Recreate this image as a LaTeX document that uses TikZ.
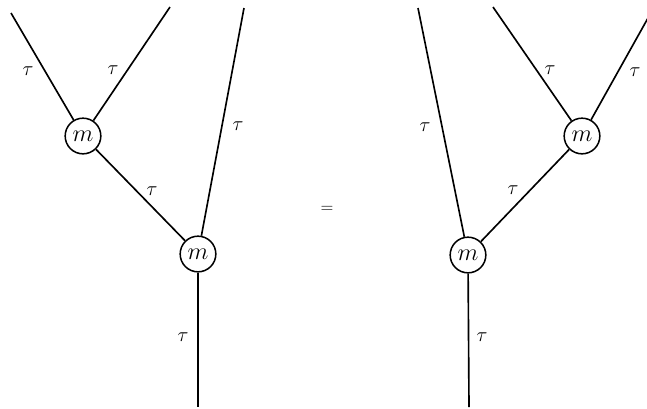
\documentclass[tikz,border=0pt]{standalone}
\usepackage{amsmath}
\usepackage{tikz}
\usetikzlibrary{positioning}

\begin{document}
\begin{tikzpicture}[
    x=0.03cm, y=-0.03cm,
    vertex/.style={circle, draw, line width=1.3pt, minimum size=1.07cm,
                   inner sep=0pt, font=\huge},
    lbl/.style={font=\LARGE, inner sep=1pt},
    wire/.style={line width=1.4pt}
  ]
    \useasboundingbox (0,0) rectangle (647,408);

    % left side: (tau tau) tau
    \node[vertex] (ml)  at (83,136)  {$m$};
    \node[vertex] (mlr) at (198,254) {$m$};
    \coordinate (la) at (11,13);
    \coordinate (lb) at (170,7);
    \coordinate (lc) at (244,8);
    \coordinate (lr) at (198,407);

    \draw[wire] (la) -- (ml);
    \draw[wire] (lb) -- (ml);
    \draw[wire] (ml) -- (mlr);
    \draw[wire] (lc) -- (mlr);
    \draw[wire] (mlr) -- (lr);

    \node[lbl] (tla) at (28,71)   {$\tau$};
    \node[lbl] (tlb) at (113,70)  {$\tau$};
    \node[lbl] (tlc) at (238,126) {$\tau$};
    \node[lbl] (tlm) at (152,191) {$\tau$};
    \node[lbl] (tlr) at (183,337) {$\tau$};

    \node[font=\Large] (eq) at (327,209) {$=$};

    % right side: tau (tau tau)
    \node[vertex] (mr)  at (582,136) {$m$};
    \node[vertex] (mrr) at (468,255) {$m$};
    \coordinate (ra) at (418,8);
    \coordinate (rb) at (493,7);
    \coordinate (rc) at (648,18);
    \coordinate (rr) at (469,407);

    \draw[wire] (rb) -- (mr);
    \draw[wire] (rc) -- (mr);
    \draw[wire] (mr) -- (mrr);
    \draw[wire] (ra) -- (mrr);
    \draw[wire] (mrr) -- (rr);

    \node[lbl] (tra) at (425,127) {$\tau$};
    \node[lbl] (trb) at (550,70)  {$\tau$};
    \node[lbl] (trc) at (635,72)  {$\tau$};
    \node[lbl] (trm) at (513,190) {$\tau$};
    \node[lbl] (trr) at (482,337) {$\tau$};
\end{tikzpicture}
\end{document}
